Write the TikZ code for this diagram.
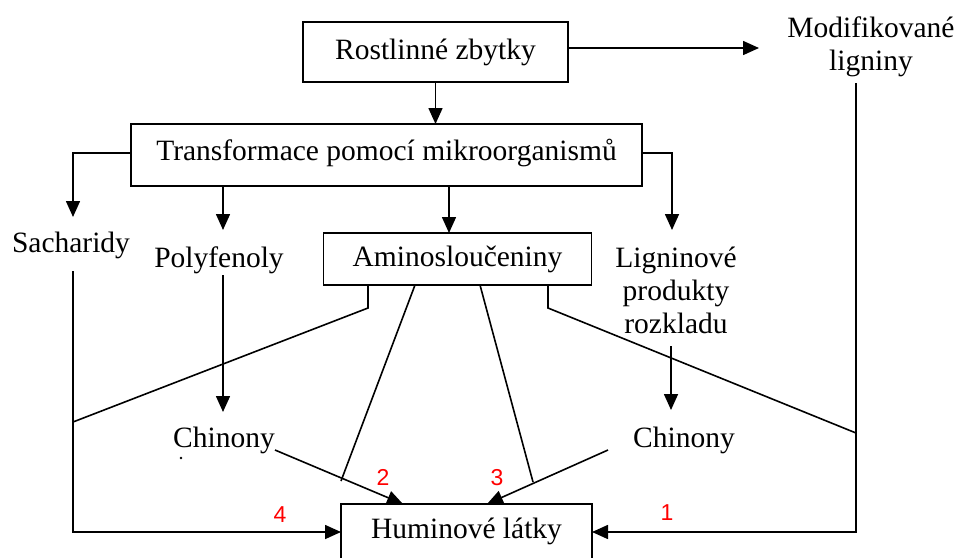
\documentclass[tikz,border=0pt]{standalone}
\usepackage{fontspec}
\setmainfont{Liberation Serif}
\newfontfamily\numfont{Liberation Sans}
\usetikzlibrary{arrows.meta}
\begin{document}
\begin{tikzpicture}[x=1pt,y=-1pt,
  every node/.style={font=\fontsize{29.5}{33}\selectfont},
  box/.style={draw, line width=1.7pt, inner sep=0pt, outer sep=0pt, text height=20pt, text depth=6pt},
  txt/.style={inner sep=0pt, outer sep=0pt},
  num/.style={inner sep=0pt, text=red, font=\numfont\fontsize{23}{26}\selectfont},
  conn/.style={line width=1.6pt},
  arr/.style={conn, -{Triangle[length=16pt,width=14pt]}}]
\useasboundingbox (0,0) rectangle (963,557);
\clip (0,0) rectangle (963,557);
% boxes
\node[box, minimum width=265pt, minimum height=60pt] (rz) at (435.5,52) {Rostlinné zbytky};
\node[box, minimum width=511pt, minimum height=62pt, text depth=10pt] (tr) at (386.5,155) {Transformace pomocí mikroorganismů};
\node[box, minimum width=268pt, minimum height=52pt] (am) at (457.5,259) {Aminosloučeniny};
\node[box, minimum width=251pt, text height=34pt, text depth=50pt, anchor=north] (hu) at (466.5,504) {Huminové látky};
% plain texts
\node[txt, align=center, anchor=north] (mod) at (871,17) {Modifikované\\ligniny};
\node[txt, anchor=base] (sach) at (71,252) {Sacharidy};
\node[txt, anchor=base] (poly) at (219,267) {Polyfenoly};
\node[txt, align=center, anchor=north] (lign) at (676,247) {Ligninové\\produkty\\rozkladu};
\node[txt, anchor=base] (ch1) at (224,447) {Chinony};
\node[txt, anchor=base] (ch2) at (684,447) {Chinony};
\fill (181,458) circle (1.3pt);
% red numbers
\node[num, anchor=base] (n1) at (667,520) {1};
\node[num, anchor=base] (n2) at (383,485) {2};
\node[num, anchor=base] (n3) at (497,485) {3};
\node[num, anchor=base] (n4) at (280,522) {4};
% coordinates
\coordinate (modin) at (759,48);
\coordinate (sachtop) at (73,217);
\coordinate (polytop) at (223,230);
\coordinate (amtop) at (449,233);
\coordinate (ligtop) at (672,230);
\coordinate (sachbot) at (73,271);
\coordinate (hwin) at (341,532);
\coordinate (heast) at (592,532);
\coordinate (polybot) at (223,275);
\coordinate (ch1top) at (223,412);
\coordinate (ch1out) at (275,450);
\coordinate (htop1) at (403,504);
\coordinate (modbot) at (856,83);
\coordinate (modcorner) at (856,532);
\coordinate (ligbot) at (671,346);
\coordinate (ch2top) at (671,410);
\coordinate (ch2out) at (608,450);
\coordinate (htop2) at (487,504);
\coordinate (a1) at (368,285);
\coordinate (a1b) at (368,308);
\coordinate (a1e) at (73,422);
\coordinate (a2) at (415,285);
\coordinate (a2e) at (341,481);
\coordinate (a3) at (480,285);
\coordinate (a3e) at (533,482);
\coordinate (a4) at (548,285);
\coordinate (a4b) at (548,308);
\coordinate (a4e) at (856,433);
% connectors
\draw[arr] (rz.east |- modin) -- (modin);
\draw[arr] (rz.south) -- (rz.south |- tr.north);
\draw[arr] (tr.west |- 0,153) -| (sachtop);
\draw[arr] (tr.south -| polytop) -- (polytop);
\draw[arr] (tr.south -| amtop) -- (amtop);
\draw[arr] (tr.east |- 0,153) -| (ligtop);
\draw[arr] (sachbot) |- (hwin);
\draw[arr] (polybot) -- (ch1top);
\draw[arr] (ch1out) -- (htop1);
\draw[arr] (modbot) -- (modcorner) -- (heast);
\draw[arr] (ligbot) -- (ch2top);
\draw[arr] (ch2out) -- (htop2);
\draw[conn] (a1) -- (a1b) -- (a1e);
\draw[conn] (a2) -- (a2e);
\draw[conn] (a3) -- (a3e);
\draw[conn] (a4) -- (a4b) -- (a4e);
\end{tikzpicture}
\end{document}
